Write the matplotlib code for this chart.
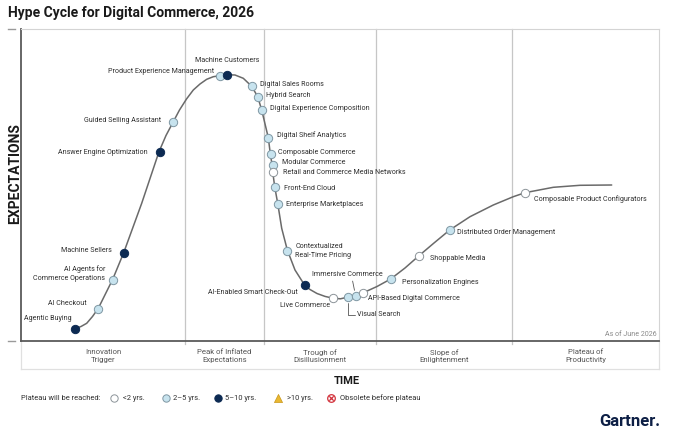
import matplotlib
matplotlib.use("Agg")
import matplotlib.pyplot as plt

plt.rcParams['font.family'] = ['Roboto', 'DejaVu Sans']

# ---------------- data ----------------
title = "Hype Cycle for Digital Commerce, 2026"

# hype curve knots (time, expectations)
curve_time = [53.3, 60, 65.7, 71.5, 77.3, 91.7, 102.7, 120.7, 138, 145, 152.3, 158.5, 165.5,
              172.3, 179, 185.7, 192.3, 199, 205.7, 214, 222.3, 230.7, 236.7, 240.7, 247.3,
              249.3, 251, 251.7, 253.7, 256.7, 260.7, 266.3, 274, 284, 289, 296, 304, 312.3,
              319.5, 327.3, 334.7, 341.7, 356, 369.7, 384, 398, 413, 428.7, 449, 472.3, 492.3,
              504, 532.3, 559, 590.7]
curve_expect = [12, 14.5, 17.7, 24.5, 32.7, 61.7, 88.3, 137.7, 189.3, 205.5, 219.3, 231, 242,
                251, 257, 261.7, 264.3, 265.3, 266.3, 266, 262.7, 254.7, 244.3, 231, 203.3,
                187.3, 176.7, 169.3, 154.3, 137.7, 112.7, 91, 71, 55.3, 51.5, 47.5, 44.6, 42.7,
                42.2, 44, 45.3, 48, 54.5, 62, 73, 85.3, 98, 111, 124.3, 136, 144.3,
                148.3, 153.7, 155.7, 156]

tech_names = ["Agentic Buying", "AI Checkout", "AI Agents for\nCommerce Operations",
              "Machine Sellers", "Answer Engine Optimization", "Guided Selling Assistant",
              "Product Experience Management", "Machine Customers", "Digital Sales Rooms",
              "Hybrid Search", "Digital Experience Composition", "Digital Shelf Analytics",
              "Composable Commerce", "Modular Commerce", "Retail and Commerce Media Networks",
              "Front-End Cloud", "Enterprise Marketplaces", "Contextualized\nReal-Time Pricing",
              "AI-Enabled Smart Check-Out", "Live Commerce", "Visual Search",
              "Immersive Commerce", "API-Based Digital Commerce", "Personalization Engines",
              "Shoppable Media", "Distributed Order Management",
              "Composable Product Configurators"]
tech_time = [53.5, 77, 92, 103, 138.5, 152, 199, 205.7, 230.7, 236.7, 241, 247.3, 249.5,
             251.5, 252, 254.2, 256.6, 266.4, 283.8, 312.3, 327.3, 334.6, 341.6, 369.8,
             398, 428.6, 504]
tech_expect = [12, 32.5, 61.5, 88, 189, 219.5, 265.2, 266.2, 255, 244, 231.5, 203.5, 187,
               176, 169, 154, 137, 90.5, 55.7, 42.8, 44, 45.2, 48, 62, 85.2, 111, 148.2]
tech_plateau = ["5-10", "2-5", "2-5", "5-10", "5-10", "2-5", "2-5", "5-10", "2-5", "2-5",
                "2-5", "2-5", "2-5", "2-5", "<2", "2-5", "2-5", "2-5", "5-10", "<2", "2-5",
                "2-5", "<2", "2-5", "<2", "2-5", "<2"]

phase_names = ["Innovation\nTrigger", "Peak of Inflated\nExpectations", "Trough of\nDisillusionment",
               "Slope of\nEnlightenment", "Plateau of\nProductivity"]
phase_bounds = [164, 243, 355, 491]

legend_labels = ["<2 yrs.", "2\u20135 yrs.", "5\u201310 yrs.", ">10 yrs.", "Obsolete before plateau"]

# ---------------- styles / layout ----------------
W, H = 680, 442
face = {"<2": "#ffffff", "2-5": "#c7e3ee", "5-10": "#0c2a52"}
edge = {"<2": "#8c9499", "2-5": "#7f97a3", "5-10": "#0c2a52"}
# label offsets in pixels (dx, dy, ha)
label_pos = {
    "Agentic Buying": (-2.5, 10, "right"),
    "AI Checkout": (-11, 5, "right"),
    "AI Agents for\nCommerce Operations": (-8, 6, "right"),
    "Machine Sellers": (-12, 2, "right"),
    "Answer Engine Optimization": (-12, 0, "right"),
    "Guided Selling Assistant": (-12, 1, "right"),
    "Product Experience Management": (-6, 4, "right"),
    "Machine Customers": (0, 14, "center"),
    "Digital Sales Rooms": (8, 2, "left"),
    "Hybrid Search": (8, 1.5, "left"),
    "Digital Experience Composition": (8, 0.5, "left"),
    "Digital Shelf Analytics": (9, 2, "left"),
    "Composable Commerce": (8, 2, "left"),
    "Modular Commerce": (9, 3, "left"),
    "Retail and Commerce Media Networks": (10, -1, "left"),
    "Front-End Cloud": (9, -1, "left"),
    "Enterprise Marketplaces": (8, -1, "left"),
    "Contextualized\nReal-Time Pricing": (8, -0.5, "left"),
    "AI-Enabled Smart Check-Out": (-7.5, -7, "right"),
    "Live Commerce": (-3, -7, "right"),
    "Visual Search": (9, -18, "left"),
    "Immersive Commerce": (-8.5, 21, "center"),
    "API-Based Digital Commerce": (5.5, -5, "left"),
    "Personalization Engines": (11, -4, "left"),
    "Shoppable Media": (11, -3, "left"),
    "Distributed Order Management": (7.5, -2, "left"),
    "Composable Product Configurators": (9, -6, "left"),
}
TXT = "#2e2e2e"

fig = plt.figure(figsize=(W / 100, H / 100), dpi=100)
fig.patch.set_facecolor("white")

# overlay in pixel coordinates for frame decorations
ov = fig.add_axes([0, 0, 1, 1], zorder=0)
ov.set_xlim(0, W)
ov.set_ylim(H, 0)
ov.axis("off")

ax = fig.add_axes([21 / W, 1 - 341 / H, 638 / W, 312 / H], zorder=1)
ax.set_xlim(0, 638)
ax.set_ylim(0, 312)
ax.patch.set_alpha(0)
ax.set_xticks([])
ax.set_yticks([])
for s in ["left", "bottom"]:
    ax.spines[s].set_color("#5a5a5a")
    ax.spines[s].set_linewidth(1.3)
for s in ["top", "right"]:
    ax.spines[s].set_color("#d4d4d4")
    ax.spines[s].set_linewidth(0.8)

for b in phase_bounds:
    ax.plot([b, b], [-3, 312], color="#c6c6c6", lw=0.9, clip_on=False, zorder=1)

# phase label box
ov.plot([21, 659], [369, 369], color="#e0e0e0", lw=0.9)
ov.plot([21, 21], [341, 369], color="#e0e0e0", lw=0.9)
ov.plot([659, 659], [341, 369], color="#e0e0e0", lw=0.9)
# small tick dashes
ov.plot([8, 15], [29, 29], color="#9a9a9a", lw=1.0)
ov.plot([8, 15], [341, 341], color="#9a9a9a", lw=1.0)

edges = [0] + phase_bounds + [638]
for i, name in enumerate(phase_names):
    cx = (edges[i] + edges[i + 1]) / 2
    ax.text(cx, -15, name, ha="center", va="center", fontsize=5.6, color="#555555",
            linespacing=1.3, clip_on=False)

# curve
ax.plot(curve_time, curve_expect, color="#6a6a6a", lw=1.1, zorder=2,
        solid_capstyle="round", solid_joinstyle="round")

# markers
for n, x, y, p in zip(tech_names, tech_time, tech_expect, tech_plateau):
    ax.scatter([x], [y], s=36, facecolor=face[p], edgecolor=edge[p], linewidth=0.7, zorder=3)

# labels
for n, x, y in zip(tech_names, tech_time, tech_expect):
    dx, dy, ha = label_pos[n]
    kw = dict(xy=(x, y), xytext=(dx, dy), textcoords="offset pixels", ha=ha, va="center",
              fontsize=5.1, color=TXT, linespacing=1.25, zorder=4, multialignment=ha)
    if n == "Visual Search":
        kw["arrowprops"] = dict(arrowstyle="-", color="#555555", lw=0.6, shrinkA=0, shrinkB=4,
                                relpos=(0, 0.5), connectionstyle="angle,angleA=0,angleB=90,rad=0")
    if n == "Immersive Commerce":
        kw["arrowprops"] = dict(arrowstyle="-", color="#555555", lw=0.6, shrinkA=0, shrinkB=4,
                                relpos=(0.57, 0.0))
    ax.annotate(n, **kw)

ax.text(636, 6, "As of June 2026", ha="right", va="center", fontsize=5.1, color="#8a8a8a")

# titles
ov.text(8, 13, title, ha="left", va="center", fontsize=10, fontweight="bold", color="#1a1a1a")
ov.text(15, 174, "EXPECTATIONS", rotation=90, ha="center", va="center", fontsize=10,
        fontweight="bold", color="#1a1a1a")
ov.text(347, 381, "TIME", ha="center", va="center", fontsize=8, fontweight="bold", color="#1a1a1a")

# legend
ly = 398
ov.text(21, ly, "Plateau will be reached:", ha="left", va="center", fontsize=5.4, color=TXT)
leg_x = [114.3, 165.7, 217.7, 278, 330.7]
leg_tx = [123, 172.7, 225, 287, 340]
ov.scatter([leg_x[0]], [ly], s=28, facecolor="white", edgecolor="#8c9499", linewidth=0.7)
ov.scatter([leg_x[1]], [ly], s=28, facecolor=face["2-5"], edgecolor=edge["2-5"], linewidth=0.7)
ov.scatter([leg_x[2]], [ly], s=28, facecolor=face["5-10"], edgecolor=edge["5-10"], linewidth=0.7)
ov.scatter([leg_x[3]], [ly - 0.5], s=34, marker="^", facecolor="#e9b831", edgecolor="#c9961a",
           linewidth=0.5)
ov.scatter([leg_x[4]], [ly], s=30, facecolor="white", edgecolor="#d2303a", linewidth=0.9)
ov.scatter([leg_x[4]], [ly], s=10, marker="x", color="#d2303a", linewidth=0.9)
for tx, lab in zip(leg_tx, legend_labels):
    ov.text(tx, ly, lab, ha="left", va="center", fontsize=5.4, color=TXT)

ov.text(660, 422, "Gartner.", ha="right", va="center", fontsize=12, fontweight="bold",
        color="#0d1f45")

fig.savefig("out.png", dpi=100, facecolor="white")
